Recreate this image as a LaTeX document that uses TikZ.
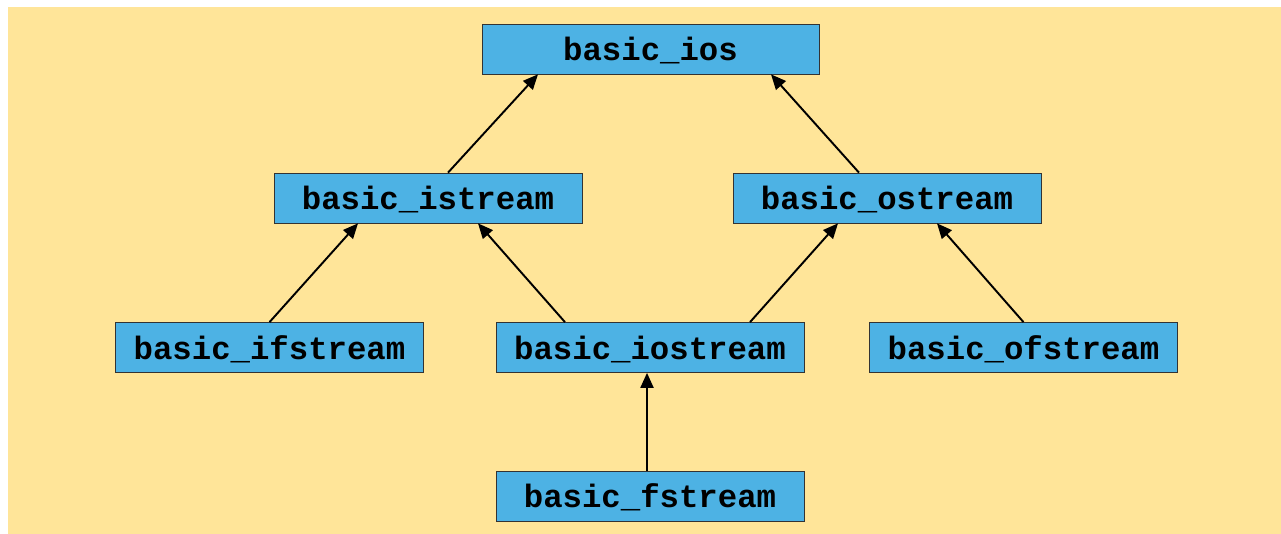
\documentclass[tikz,border=0pt]{standalone}
\usepackage{fontspec}
\setmonofont{Liberation Mono}
\usetikzlibrary{arrows.meta}
\definecolor{bgyellow}{RGB}{255,229,153}
\definecolor{boxblue}{RGB}{77,178,228}
\begin{document}
\begin{tikzpicture}[
	cls/.style={draw=black!80, fill=boxblue, minimum width=6.16cm, minimum height=1cm,
		inner sep=0pt, text depth=0pt, font=\fontsize{18.4}{20}\selectfont\ttfamily\bfseries},
	inherit/.style={-{Triangle[length=3mm,width=2.6mm]}, line width=1.1pt}
	]

	% The Background
	\useasboundingbox (0,0) rectangle (25.62,10.68);
	\fill[bgyellow] (0.16,0) rectangle (25.62,10.54);

	% Classes
	\node[cls, minimum width=6.74cm] (ios) at (13.01,9.70) {basic\_ios};
	\node[cls] (istream) at (8.56,6.72) {basic\_istream};
	\node[cls] (ostream) at (17.74,6.72) {basic\_ostream};
	\node[cls] (ifstream) at (5.39,3.73) {basic\_ifstream};
	\node[cls] (iostream) at (13.00,3.73) {basic\_iostream};
	\node[cls] (ofstream) at (20.47,3.73) {basic\_ofstream};
	\node[cls] (fstream) at (13.00,0.76) {basic\_fstream};

	% Inheritance
	\draw[inherit] ([xshift=0.40cm]istream.north) -- ([xshift=-2.25cm]ios.south);
	\draw[inherit] ([xshift=-0.56cm]ostream.north) -- ([xshift=2.41cm]ios.south);
	\draw[inherit] (ifstream.north) -- ([xshift=-1.40cm]istream.south);
	\draw[inherit] ([xshift=-1.70cm]iostream.north) -- ([xshift=1.00cm]istream.south);
	\draw[inherit] ([xshift=2.00cm]iostream.north) -- ([xshift=-0.98cm]ostream.south);
	\draw[inherit] (ofstream.north) -- ([xshift=1.00cm]ostream.south);
	\draw[inherit] ([xshift=-0.06cm]fstream.north) -- ([xshift=-0.06cm]iostream.south);

\end{tikzpicture}
\end{document}
